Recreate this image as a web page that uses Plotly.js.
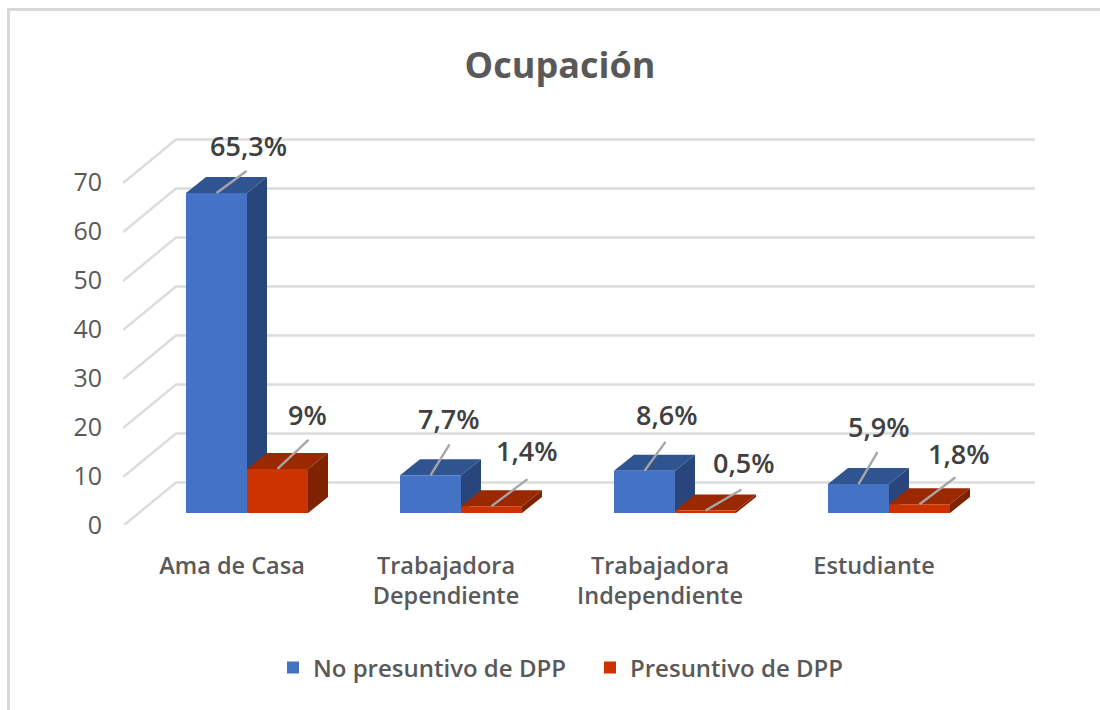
<!DOCTYPE html>
<html><head><meta charset="utf-8">
<script src="https://cdn.plot.ly/plotly-3.0.1.min.js"></script>
<style>
html,body{margin:0;padding:0;background:#fff;overflow:hidden}
#frame{position:absolute;left:7px;top:8px;width:1093px;height:702px;border-left:3px solid #d9d9d9;border-top:3px solid #d9d9d9;box-sizing:border-box}
#chart{position:absolute;left:0;top:0;width:1100px;height:710px}
</style></head><body>
<div id="frame"></div><div id="chart"></div>
<script>
const categories = ['Ama de Casa','Trabajadora<br>Dependiente','Trabajadora<br>Independiente','Estudiante'];
const seriesNames = ['No presuntivo de DPP','Presuntivo de DPP'];
const noPresuntivo = [65.3,7.7,8.6,5.9];
const presuntivo = [9,1.4,0.5,1.8];
const yTicks = [0,10,20,30,40,50,60,70];

// --- geometry (styling only) ---
const pxCat = 214, pxUnit = 4.9;
const L = 123, R = 1035, B = 525, T = 130;
const barPx = 61, depthX = 20, depthY = 16;
const bw = barPx/pxCat, dx = depthX/pxCat, dy = depthY/pxUnit;
const xFirst = 247, xLabelFirst = 232, baseY = 513;
const rangeFor = c => [(L-c)/pxCat,(R-c)/pxCat];
const h = (B-T)/pxUnit;
const xr = rangeFor(xFirst);
const idx = categories.map((c,i)=>i);
const fnt = "'Open Sans', 'Noto Sans', sans-serif";

const blue={front:'#4472c4',top:'#30548f',side:'#28467c'};
const red={front:'#cc3300',top:'#9a2800',side:'#7f2200'};

function faces(vals, off, col){
  const out=[];
  vals.forEach((v,i)=>{
    const a=i+off, b=a+bw;
    out.push({type:'path',xref:'x',yref:'y',layer:'between',line:{width:0},fillcolor:col.side,
      path:`M${b},0L${b+dx},${dy}L${b+dx},${v+dy}L${b},${v}Z`});
    out.push({type:'path',xref:'x',yref:'y',layer:'between',line:{width:0},fillcolor:col.top,
      path:`M${a},${v}L${b},${v}L${b+dx},${v+dy}L${a+dx},${v+dy}Z`});
  });
  return out;
}
const gridShift=(526-baseY)/pxUnit, gridDX=53/pxCat, gridDY=43.5/pxUnit;
const gridShapes=yTicks.map(t=>({type:'path',xref:'x',yref:'y',layer:'between',
  line:{color:'#dcdcdc',width:2.4},
  path:`M${xr[0]},${t-gridShift}L${xr[0]+gridDX},${t-gridShift+gridDY}L${xr[1]},${t-gridShift+gridDY}`}));

const fmt=v=>String(v).replace('.',',')+'%';
// label placement in px relative to the top of each bar (style, not data)
const blueText=[[32,48],[18,57],[22,56],[20,58]];
const redText=[[30,54],[35,56],[38,48],[39,51]];
const blueLead=[[30,22],[19,31],[21,29],[19,32]];
const redLead=[[31,29],[36,27],[36,21],[36,27]];
function labels(vals,off,offs){
  return vals.map((v,i)=>({xref:'x',yref:'y',x:i+off+bw/2,y:v,text:fmt(v),xshift:offs[i][0],yshift:offs[i][1],
    showarrow:false,xanchor:'center',yanchor:'middle',
    font:{family:fnt,size:27,color:'#404040',weight:600}}));
}
function leaders(vals,off,offs){
  return vals.map((v,i)=>{const a=i+off+bw/2;return {type:'line',xref:'x',yref:'y',layer:'above',
    x0:a,y0:v,x1:a+offs[i][0]/pxCat,y1:v+offs[i][1]/pxUnit,line:{color:'#a6a6a6',width:2.4}};});
}

const traces=[
 {type:'bar',name:seriesNames[0],x:idx,y:noPresuntivo,xaxis:'x',yaxis:'y',marker:{color:blue.front,line:{width:0}},hoverinfo:'skip'},
 {type:'bar',name:seriesNames[1],x:idx,y:presuntivo,xaxis:'x',yaxis:'y',marker:{color:red.front,line:{width:0}},hoverinfo:'skip'},
 {type:'scatter',mode:'none',x:[idx[0]],y:[yTicks[0]],xaxis:'x2',yaxis:'y2',showlegend:false,hoverinfo:'skip'}
];
const tickFont={family:fnt,size:23.5,color:'#595959',weight:600};
const layout={
 width:1100,height:710,autosize:false,
 paper_bgcolor:'rgba(0,0,0,0)',plot_bgcolor:'rgba(0,0,0,0)',
 margin:{l:L,r:1100-R,t:T,b:710-B,pad:0},
 barmode:'group',bargap:1-2*bw,bargroupgap:0,
 title:{text:'Ocupación',x:560/1100,xanchor:'center',y:1-65/710,yanchor:'middle',xref:'container',yref:'container',
   font:{family:fnt,size:36,color:'#595959',weight:700}},
 xaxis:{range:xr,anchor:'y',visible:false,fixedrange:true},
 yaxis:{range:[-(B-baseY)/pxUnit,h-(B-baseY)/pxUnit],anchor:'x',visible:false,fixedrange:true},
 xaxis2:{range:rangeFor(xLabelFirst),overlaying:'x',anchor:'y2',side:'bottom',tickmode:'array',tickvals:idx,ticktext:categories,showgrid:false,zeroline:false,showline:false,
   ticks:'',ticklabelstandoff:24,tickfont:tickFont,fixedrange:true},
 yaxis2:{range:[0,h],overlaying:'y',anchor:'x2',side:'left',tickmode:'array',tickvals:yTicks,ticktext:yTicks.map(String),showgrid:false,zeroline:false,showline:false,
   ticks:'',ticklabelstandoff:20,tickfont:{family:fnt,size:25,color:'#595959',weight:400},fixedrange:true},
 shapes:[...gridShapes,...faces(noPresuntivo,-bw,blue),...faces(presuntivo,0,red),...leaders(noPresuntivo,-bw,blueLead),...leaders(presuntivo,0,redLead)],
 annotations:[...labels(noPresuntivo,-bw,blueText),...labels(presuntivo,0,redText)],
 showlegend:true,
 legend:{orientation:'h',x:273/1100,xanchor:'left',y:1-668/710,yanchor:'middle',xref:'container',yref:'container',
   traceorder:'normal',entrywidth:272,entrywidthmode:'pixels',font:{family:fnt,size:24,color:'#595959',weight:600},itemwidth:30,itemclick:false,itemdoubleclick:false,bgcolor:'rgba(0,0,0,0)'}
};
Plotly.newPlot('chart',traces,layout,{displayModeBar:false,staticPlot:true});
</script></body></html>
